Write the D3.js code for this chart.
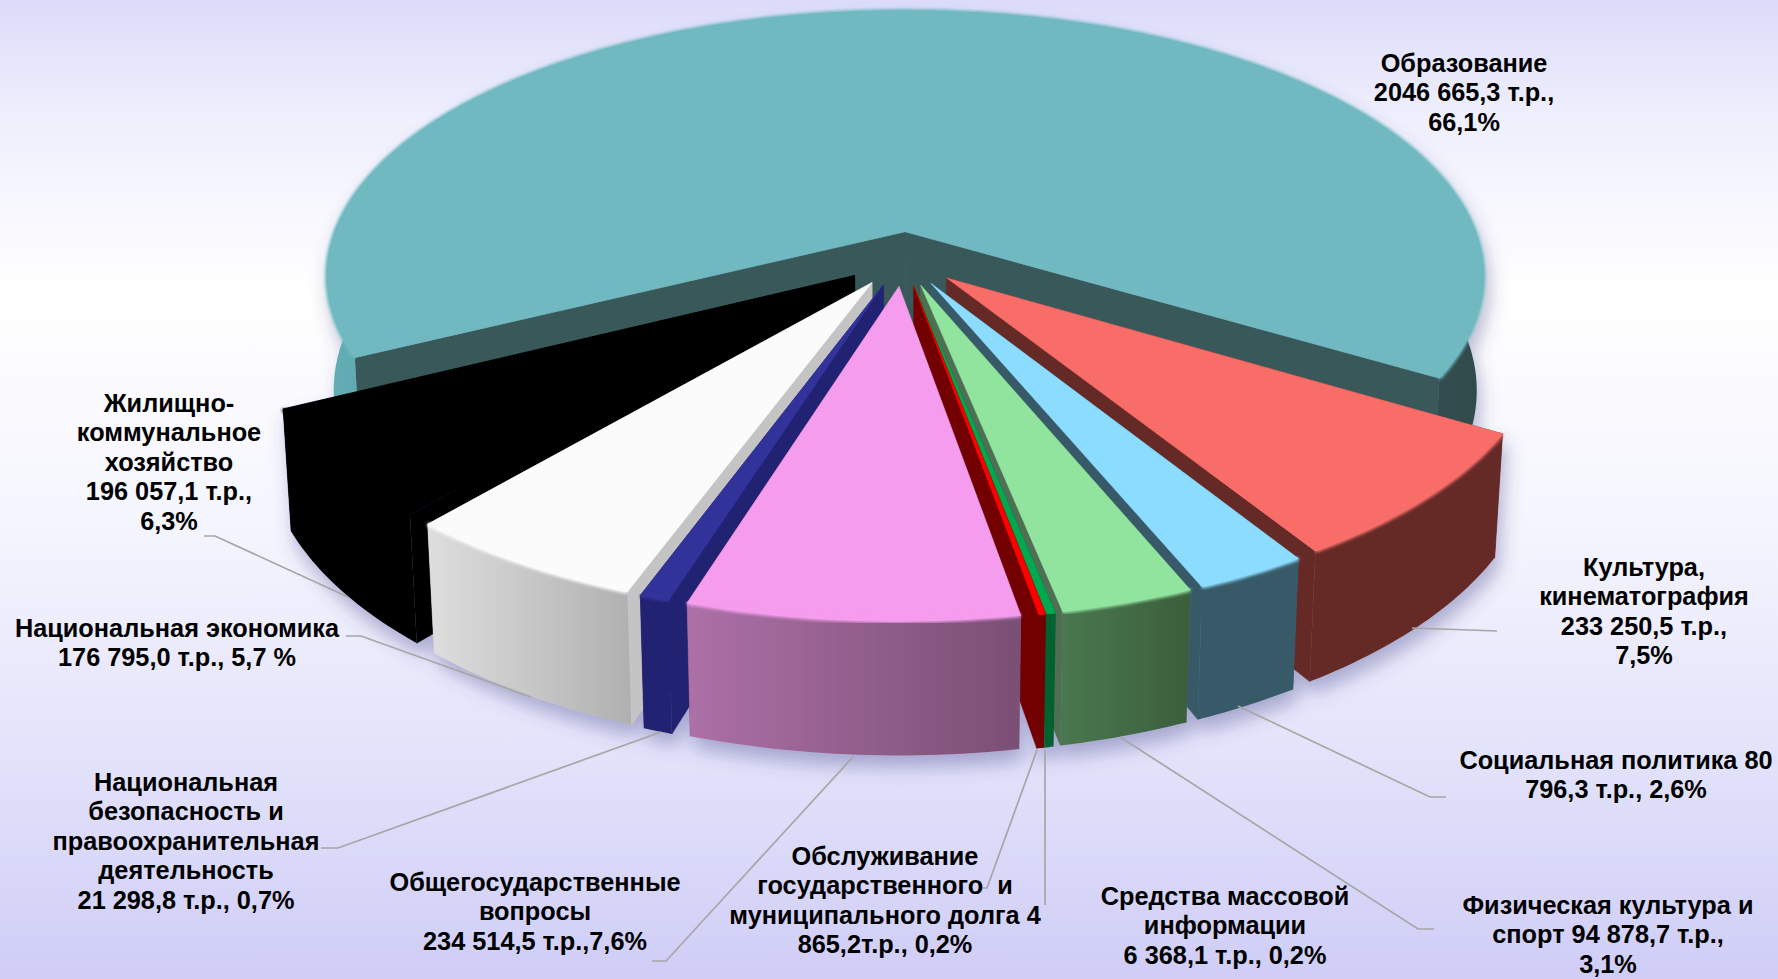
<!DOCTYPE html>
<html>
<head>
<meta charset="utf-8">
<script src="https://cdn.jsdelivr.net/npm/d3@7"></script>
<style>
	html, body { margin: 0; padding: 0; background: #fff; }
	svg { display: block; }
	text { font-family: "Liberation Sans", Arial, sans-serif; font-weight: bold; font-size: 25.3px; fill: #000; }
</style>
</head>
<body>
<div id="chart"></div>
<script>
// chart values, in pie order (clockwise, starting with the big slice)
const categories = ["Образование", "Культура, кинематография", "Социальная политика", "Физическая культура и спорт",
	"Средства массовой информации", "Обслуживание государственного и муниципального долга", "Общегосударственные вопросы",
	"Национальная безопасность и правоохранительная деятельность", "Национальная экономика", "Жилищно-коммунальное хозяйство"];
const values = [2046665.3, 233250.5, 80796.3, 94878.7, 6368.1, 4865.2, 234514.5, 21298.8, 176795.0, 196057.1];
const labelLines = [
	["Образование", "2046 665,3 т.р.,", "66,1%"],
	["Культура,", "кинематография", "233 250,5 т.р.,", "7,5%"],
	["Социальная политика 80", "796,3 т.р., 2,6%"],
	["Физическая культура и", "спорт 94 878,7 т.р.,", "3,1%"],
	["Средства массовой", "информации", "6 368,1 т.р., 0,2%"],
	["Обслуживание", "государственного  и", "муниципального долга 4", "865,2т.р., 0,2%"],
	["Общегосударственные", "вопросы", "234 514,5 т.р.,7,6%"],
	["Национальная", "безопасность и", "правоохранительная", "деятельность", "21 298,8 т.р., 0,7%"],
	["Национальная экономика", "176 795,0 т.р., 5,7 %"],
	["Жилищно-", "коммунальное", "хозяйство", "196 057,1 т.р.,", "6,3%"]
];

// colours per slice
const topColors = ["#71b9c1", "#f96d69", "#8cdcff", "#91e49d", "#00a850", "#ff0000", "#f59cee", "#33339b", "#fbfbfb", "#000000"];
const wallColors = ["#38585a", "#652a28", "#375a68", "#4f6e52", "#00622f", "#720000", "#8a5a84", "#242272", "#c4c4c4", "#000000"];
const sideLeft = ["#62aeb4", "#652a28", "#375a68", "#4a7850", "#00622f", "#720000", "#ac70a6", "#242272", "#dedede", "#000000"];
const sideRight = ["#2f4a4b", "#652a28", "#375a68", "#3b5e3c", "#00622f", "#720000", "#7a4f74", "#242272", "#b0b0b0", "#000000"];

// label placement: centre x, first line centre y
const labelX = [1464, 1644, 1616, 1608, 1225, 885, 535, 186, 177, 169];
const labelY = [63, 567, 760, 905, 896, 856, 882, 782, 628, 403];
const lineStep = 29.4;

// leader lines
const leaders = [
	null,
	[[1412, 628], [1497, 631]],
	[[1238, 706], [1430, 797], [1446, 797]],
	[[1120, 737], [1418, 929], [1434, 929]],
	[[1045, 750], [1045, 905]],
	[[1037, 750], [987, 888], [982, 888]],
	[[853, 757], [666, 961], [652, 961]],
	[[661, 732], [338, 848], [321, 848]],
	[[531, 697], [361, 636], [346, 636]],
	[[348, 597], [215, 536], [204, 536]]
];

// projection of the pie disc
const width = 1778, height = 979;
const cx = 903, cy = 258, R = 580, tilt = 267, persp = 0.17, depth = 115, depthPersp = 0.012;
const explodeMain = 0.10, explodeRest = 0.105;

function project(X, Y, Z) {
	const w = 1 - persp * Y + depthPersp * Z;
	return [cx + R * X / w, cy + (tilt * Y + depth * Z) / w];
}

const svg = d3.select("#chart").append("svg").attr("width", width).attr("height", height);
const defs = svg.append("defs");

const bg = defs.append("linearGradient").attr("id", "bg").attr("x1", 0).attr("x2", 0).attr("y1", 0).attr("y2", 1);
[[0, "#dcdcfa"], [0.12, "#efeffd"], [0.3, "#ffffff"], [0.55, "#f4f4fe"], [0.8, "#e0e0fa"], [1, "#cfcdf6"]].forEach(s => {
	bg.append("stop").attr("offset", s[0]).attr("stop-color", s[1]);
});
svg.append("rect").attr("width", width).attr("height", height).attr("fill", "url(#bg)");

const shadow = defs.append("filter").attr("id", "shadow")
	.attr("x", "-10%").attr("y", "-10%").attr("width", "120%").attr("height", "125%");
shadow.append("feDropShadow").attr("dx", 4).attr("dy", 12).attr("stdDeviation", 9)
	.attr("flood-color", "#44448c").attr("flood-opacity", 0.38);
defs.append("filter").attr("id", "soft").append("feGaussianBlur").attr("stdDeviation", 1.6);

const startDeg = 153.2;
const pie = d3.pie().sort(null).startAngle(startDeg * Math.PI / 180).endAngle((startDeg + 360) * Math.PI / 180);
const slices = pie(values).map((d, i) => {
	const mid = (d.startAngle + d.endAngle) / 2;
	const e = i === 0 ? explodeMain : explodeRest;
	const off = [e * Math.cos(mid), e * Math.sin(mid)];
	return {i, a0: d.startAngle, a1: d.endAngle, mid, off};
});

// back to front: big slice first, then the ones furthest from the front
const frontAngle = (360 + 92) * Math.PI / 180;
const order = slices.slice().sort((a, b) => {
	if (a.i === 0) return -1;
	if (b.i === 0) return 1;
	return Math.abs(b.mid - frontAngle) - Math.abs(a.mid - frontAngle);
});

const line = d3.line();

function pt(s, r, ang, z) {
	return project(r * Math.cos(ang) + s.off[0], r * Math.sin(ang) + s.off[1], z);
}
function arcPts(s, z, reverse) {
	const n = Math.max(4, Math.ceil((s.a1 - s.a0) * 60));
	const pts = d3.range(n + 1).map(k => pt(s, 1, s.a0 + (s.a1 - s.a0) * k / n, z));
	return reverse ? pts.reverse() : pts;
}

const pieGroup = svg.append("g").attr("filter", "url(#shadow)");

order.forEach(s => {
	const g = pieGroup.append("g");
	const grad = defs.append("linearGradient").attr("id", "side" + s.i);
	grad.append("stop").attr("offset", 0).attr("stop-color", sideLeft[s.i]);
	grad.append("stop").attr("offset", 1).attr("stop-color", sideRight[s.i]);

	// radial walls, far one first
	let walls = [s.a0, s.a1];
	if (Math.sin(s.a0) > Math.sin(s.a1)) walls = [s.a1, s.a0];
	walls.forEach(a => {
		g.append("path")
			.attr("d", line([pt(s, 0, a, 0), pt(s, 1, a, 0), pt(s, 1, a, 1), pt(s, 0, a, 1)]) + "Z")
			.attr("fill", wallColors[s.i])
			.attr("stroke", wallColors[s.i]).attr("stroke-width", 0.6);
	});

	// outer rim
	g.append("path")
		.attr("d", line(arcPts(s, 0).concat(arcPts(s, 1, true))) + "Z")
		.attr("fill", "url(#side" + s.i + ")");

	// top face
	g.append("path")
		.attr("d", line([pt(s, 0, s.a0, 0)].concat(arcPts(s, 0))) + "Z")
		.attr("fill", topColors[s.i])
		.attr("stroke", topColors[s.i]).attr("stroke-width", 0.6).attr("stroke-linejoin", "round");

	// soft bevel on the rim edge
	g.append("path")
		.attr("d", line(arcPts(s, 0)))
		.attr("fill", "none")
		.attr("stroke", topColors[s.i]).attr("stroke-width", 3.5)
		.attr("filter", "url(#soft)");
});

// leader lines
svg.append("g").selectAll("path")
	.data(leaders.filter(d => d))
	.enter().append("path")
	.attr("d", d => line(d))
	.attr("fill", "none")
	.attr("stroke", "#a6a6a6")
	.attr("stroke-width", 1.7);

// labels
const labels = svg.append("g").selectAll("text")
	.data(labelLines)
	.enter().append("text")
	.attr("text-anchor", "middle")
	.attr("style", "white-space: pre")
	.attr("transform", (d, i) => "translate(" + labelX[i] + "," + labelY[i] + ")");
labels.selectAll("tspan")
	.data(d => d)
	.enter().append("tspan")
	.attr("x", 0)
	.attr("y", (d, j) => j * lineStep + 9)
	.text(d => d);
</script>
</body>
</html>
